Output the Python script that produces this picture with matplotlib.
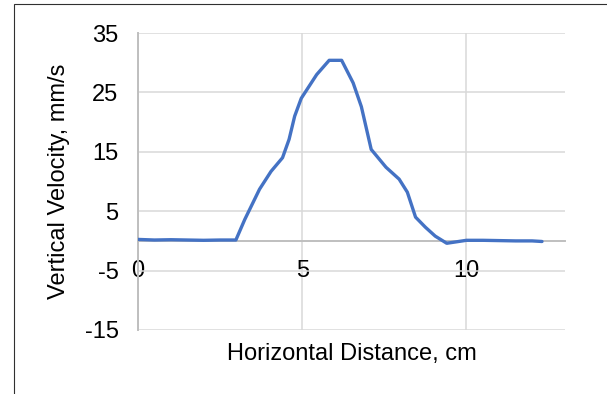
import matplotlib.pyplot as plt
from matplotlib.patches import Rectangle

plt.rcParams['font.family'] = ['Liberation Sans', 'DejaVu Sans']
plt.rcParams['axes.unicode_minus'] = False

# velocity profile across the channel
distance = [0, 0.5, 1.0, 1.5, 2.0, 2.5, 2.98, 3.25, 3.7, 4.05, 4.4, 4.6, 4.77,
            4.97, 5.44, 5.82, 6.2, 6.55, 6.8, 7.1, 7.55, 7.95, 8.2, 8.45, 8.75,
            9.05, 9.4, 10.0, 10.5, 11.0, 11.5, 12.0, 12.3]
velocity = [0.25, 0.15, 0.2, 0.15, 0.1, 0.15, 0.15, 3.6, 8.7, 11.7, 14.0, 17.1,
            21.0, 24.0, 28.0, 30.4, 30.4, 26.6, 22.6, 15.4, 12.4, 10.4, 8.2,
            4.0, 2.3, 0.8, -0.4, 0.1, 0.1, 0.05, 0.0, 0.0, -0.1]

y_ticks = [-15, -5, 5, 15, 25, 35]
x_ticks = [0, 5, 10]

fig = plt.figure(figsize=(6.07, 3.94), dpi=100)
ax = fig.add_axes([138/607, 1 - 330/394, 427/607, 297/394])

ax.plot(distance, velocity, color='#4472C4', lw=2.4, solid_joinstyle='round',
        solid_capstyle='round', zorder=3)

ax.set_xlim(0, 13)
ax.set_ylim(-15, 35)
ax.set_xticks(x_ticks)
ax.set_yticks(y_ticks)
ax.grid(True, color='#D9D9D9', lw=1.1)
ax.set_axisbelow(True)

for side in ['top', 'right']:
    ax.spines[side].set_visible(False)
ax.spines['bottom'].set_position(('data', 0))
for side in ['left', 'bottom']:
    ax.spines[side].set_color('#BFBFBF')
    ax.spines[side].set_linewidth(1.4)

ax.tick_params(axis='both', length=0, labelsize=17, colors='black')
ax.tick_params(axis='x', pad=14)
ax.tick_params(axis='y', pad=14)

ax.set_xlabel('Horizontal Distance, cm', fontsize=17)
ax.set_ylabel('Vertical Velocity, mm/s', fontsize=17)
ax.xaxis.set_label_coords(0.5, -0.045)
ax.yaxis.set_label_coords(-0.159, 0.5)

# chart border
fig.patches.append(Rectangle((14/607, -0.1), 1.2, 1.1 - 4/394, transform=fig.transFigure,
                             fill=False, edgecolor='#303030', lw=0.8))

fig.savefig('out.png', dpi=100)
